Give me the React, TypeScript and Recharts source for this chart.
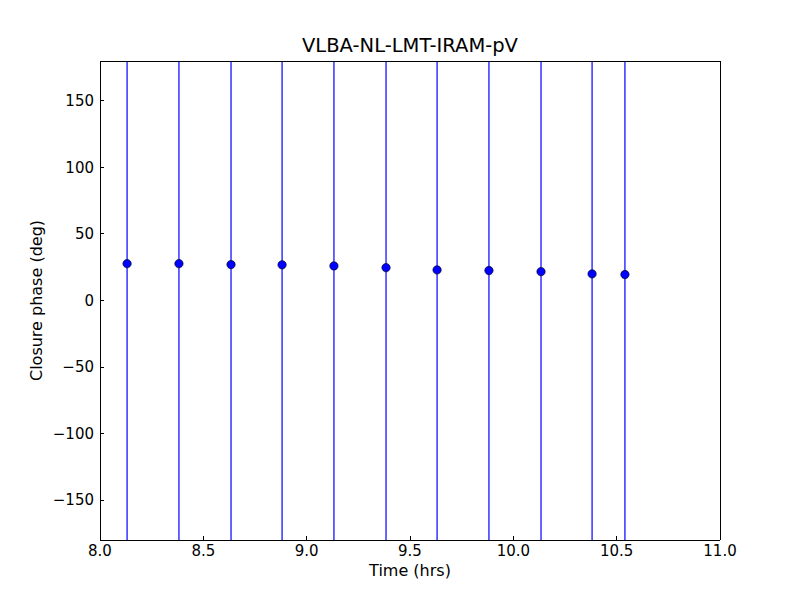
import React from "react";
import { ScatterChart, Scatter, XAxis, YAxis, ErrorBar, Label } from "recharts";

const times = [8.131, 8.382, 8.634, 8.881, 9.132, 9.384, 9.631, 9.882, 10.134, 10.381, 10.54];
const phases = [27.7, 27.7, 27, 26.8, 26, 24.7, 23, 22.5, 21.7, 20, 19.5];
// phase errors are huge, bars run off the plot
const errors = [600, 600, 600, 600, 600, 600, 600, 600, 600, 600, 600];

const xTicks = [8.0, 8.5, 9.0, 9.5, 10.0, 10.5, 11.0];
const yTicks = [-150, -100, -50, 0, 50, 100, 150];
const yMin = -180;
const yMax = 180;

// error bars are cut at the axis limits, like matplotlib clipping
const data = times.map((t, i) => ({
  t,
  phase: phases[i],
  err: [Math.min(errors[i], phases[i] - yMin), Math.min(errors[i], yMax - phases[i])],
}));

const font = "DejaVu Sans, sans-serif";
const tickStyle = { fontSize: 15, fill: "#000", fontFamily: font };
const labelStyle = { fontSize: 16, fill: "#000", fontFamily: font };

const fmtY = (v: number) => (v < 0 ? "\u2212" + Math.abs(v) : String(v));

const Dot = (props: any) => {
  const { cx, cy } = props;
  if (cx == null || cy == null) return null;
  return <circle cx={cx} cy={cy} r={4.2} fill="#0000ff" stroke="#000" strokeWidth={0.6} />;
};

const css = `.recharts-cartesian-axis-line, .recharts-cartesian-axis-tick-line { shape-rendering: crispEdges; }`;

export default function App() {
  return (
    <div style={{ position: "absolute", left: 0, top: 0, width: 800, height: 600, background: "#fff" }}>
      <style>{css}</style>
      <div
        style={{
          position: "absolute",
          top: 34,
          left: 100,
          width: 620,
          textAlign: "center",
          fontFamily: font,
          fontSize: 19.5,
          lineHeight: "24px",
        }}
      >
        VLBA-NL-LMT-IRAM-pV
      </div>
      <ScatterChart width={800} height={600} margin={{ top: 60, right: 79, bottom: 30, left: 40 }}>
        <XAxis
          type="number"
          dataKey="t"
          domain={[8, 11]}
          ticks={xTicks}
          tickFormatter={(v: number) => v.toFixed(1)}
          allowDataOverflow
          height={30}
          stroke="#000"
          tickSize={-4}
          tickMargin={9}
          tick={tickStyle}
        >
          <Label value="Time (hrs)" position="bottom" offset={-5} style={labelStyle} />
        </XAxis>
        <XAxis
          xAxisId="top"
          orientation="top"
          type="number"
          domain={[8, 11]}
          ticks={xTicks}
          allowDataOverflow
          height={1}
          stroke="#000"
          tickSize={-4}
          tick={false}
        />
        <YAxis
          type="number"
          dataKey="phase"
          domain={[yMin, yMax]}
          ticks={yTicks}
          tickFormatter={fmtY}
          allowDataOverflow
          width={60}
          stroke="#000"
          tickSize={-4}
          tickMargin={10}
          tick={tickStyle}
        >
          <Label
            value="Closure phase (deg)"
            angle={-90}
            position="insideLeft"
            offset={-4}
            style={{ ...labelStyle, textAnchor: "middle" }}
          />
        </YAxis>
        <YAxis
          yAxisId="right"
          orientation="right"
          type="number"
          domain={[yMin, yMax]}
          ticks={yTicks}
          allowDataOverflow
          width={1}
          stroke="#000"
          tickSize={-4}
          tick={false}
        />
        <Scatter data={data} shape={<Dot />} isAnimationActive={false}>
          <ErrorBar dataKey="err" direction="y" width={0} stroke="#0000ff" strokeWidth={1.2} />
        </Scatter>
      </ScatterChart>
    </div>
  );
}
